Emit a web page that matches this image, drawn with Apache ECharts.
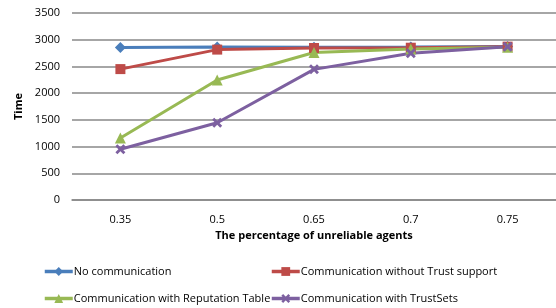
<!DOCTYPE html>
<head>
    <meta charset="utf-8">
    <title>ECharts</title>
    <script type="text/javascript" src="https://cdn.jsdelivr.net/npm/echarts@6/dist/echarts.min.js"></script>
</head>
<body style="margin:0">
<div id="main" style="width:556px;height:308px"></div>
<script type="text/javascript">
    // data
    var categories = ['0.35', '0.5', '0.65', '0.7', '0.75'];
    var noComm = [2855, 2865, 2860, 2865, 2875];
    var commNoTrust = [2450, 2815, 2845, 2850, 2870];
    var commReputation = [1160, 2245, 2760, 2825, 2860];
    var commTrustSets = [950, 1445, 2445, 2745, 2870];
    var seriesNames = ['No communication', 'Communication without Trust support',
        'Communication with Reputation Table', 'Communication with TrustSets'];

    var font = 'Open Sans';
    var crossPath = 'path://M2,0L5,3L8,0L10,2L7,5L10,8L8,10L5,7L2,10L0,8L3,5L0,2Z';

    var myChart = echarts.init(document.getElementById('main'));

    function makeSeries(name, data, color, symbol, size) {
        return {
            name: name,
            type: 'line',
            data: data,
            symbol: symbol,
            symbolSize: size,
            itemStyle: {color: color},
            lineStyle: {color: color, width: 3},
            animation: false
        };
    }

    function makeLegend(name, left, top) {
        return {
            data: [name],
            left: left,
            top: top,
            itemWidth: 28,
            itemHeight: 11,
            itemGap: 0,
            padding: 0,
            lineStyle: {width: 3.5},
            textStyle: {fontFamily: font, fontSize: 11, color: '#000', padding: [0, 0, 0, -4]}
        };
    }

    var option = {
        legend: [
            makeLegend(seriesNames[0], 43, 266),
            makeLegend(seriesNames[1], 270, 266),
            makeLegend(seriesNames[2], 43, 293),
            makeLegend(seriesNames[3], 270, 293)
        ],
        grid: {left: 72, right: 0, top: 13, bottom: 108},
        xAxis: {
            type: 'category',
            data: categories,
            boundaryGap: true,
            name: 'The percentage of unreliable agents',
            nameLocation: 'middle',
            nameGap: 26,
            nameTextStyle: {fontFamily: font, fontSize: 11, fontWeight: 'bold', color: '#000'},
            axisLine: {show: true, lineStyle: {color: '#888', width: 1.5}},
            axisTick: {show: false},
            axisLabel: {fontFamily: font, fontSize: 11, color: '#000', margin: 14}
        },
        yAxis: {
            type: 'value',
            min: 0,
            max: 3500,
            interval: 500,
            name: 'Time',
            nameLocation: 'middle',
            nameRotate: 90,
            nameGap: 46,
            nameTextStyle: {fontFamily: font, fontSize: 11, fontWeight: 'bold', color: '#000'},
            axisLine: {show: false},
            axisTick: {show: false},
            axisLabel: {fontFamily: font, fontSize: 11, color: '#000', margin: 12,
                formatter: function (v) { return String(v); }},
            splitLine: {lineStyle: {color: '#888', width: 1.5}}
        },
        series: [
            makeSeries(seriesNames[0], noComm, '#4a7ebb', 'diamond', 11),
            makeSeries(seriesNames[1], commNoTrust, '#be4b48', 'rect', 10),
            makeSeries(seriesNames[2], commReputation, '#98b954', 'triangle', 11),
            makeSeries(seriesNames[3], commTrustSets, '#7d60a0', crossPath, 10)
        ]
    };

    myChart.setOption(option);
</script>
</body>
